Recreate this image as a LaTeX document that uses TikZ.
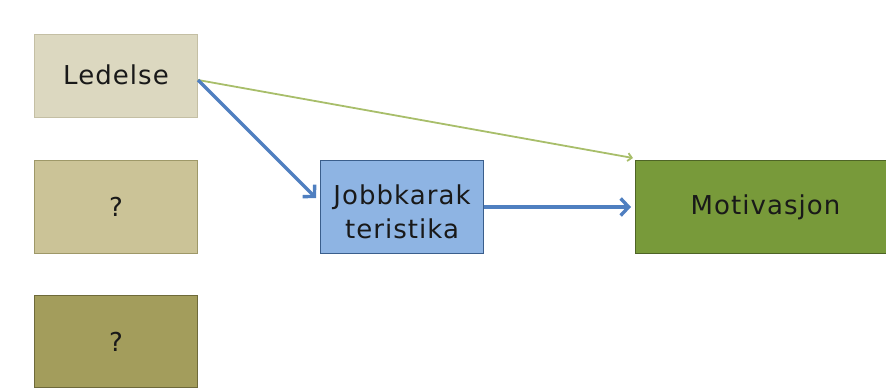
\documentclass[tikz,border=0pt]{standalone}
\usepackage{fontspec}
\setmainfont{DejaVu Sans}[LetterSpace=4]
\usetikzlibrary{arrows.meta}
\definecolor{ledfill}{HTML}{DCD8C0}
\definecolor{ledline}{HTML}{C4BFA4}
\definecolor{q1fill}{HTML}{CBC397}
\definecolor{q1line}{HTML}{9E9868}
\definecolor{q2fill}{HTML}{A39D5C}
\definecolor{q2line}{HTML}{6E6A3A}
\definecolor{jobfill}{HTML}{8EB4E3}
\definecolor{jobline}{HTML}{3A5E8C}
\definecolor{motfill}{HTML}{789A3A}
\definecolor{motline}{HTML}{4E6426}
\definecolor{bluearrow}{HTML}{4F7FC0}
\definecolor{greenline}{HTML}{A8BE6A}
\tikzset{
  boxfont/.style={font=\fontsize{26}{34}\selectfont, align=center, text=black!90},
  box/.style={draw, line width=1pt, inner sep=0pt, anchor=north west, boxfont},
  bluelink/.style={draw=bluearrow, line width=3.2pt,
    -{Straight Barb[length=8pt,width=17pt,line width=3.4pt]}},
  thinlink/.style={draw=greenline, line width=1.8pt,
    -{Straight Barb[length=4pt,width=8pt]}}
}
\begin{document}
\begin{tikzpicture}[x=1pt,y=-1pt]
  \useasboundingbox (0,0) rectangle (886,389);
  \node[box, fill=ledfill, draw=ledline, minimum width=163pt, minimum height=83pt] (led) at (34,34) {\raisebox{2pt}{Ledelse}};
  \node[box, fill=q1fill, draw=q1line, minimum width=163pt, minimum height=93pt] (q1) at (34,160) {?};
  \node[box, fill=q2fill, draw=q2line, minimum width=163pt, minimum height=92pt] (q2) at (34,295) {?};
  \node[box, fill=jobfill, draw=jobline, minimum width=163pt, minimum height=93pt] (job) at (320,160) {};
  \node[boxfont, inner sep=0pt] (jobtext) at ([yshift=-5pt]job.center) {Jobbkarak\\teristika};
  \node[box, fill=motfill, draw=motline, minimum width=260pt, minimum height=93pt] (mot) at (635,160) {Motivasjon};
  \coordinate (ledout) at ([yshift=-4pt]led.east);
  \draw[thinlink] (ledout) -- ([xshift=-2pt,yshift=2pt]mot.north west);
  \draw[bluelink] (ledout) -- ([xshift=-4pt,yshift=9pt]job.west);
  \draw[bluelink] (job.east) -- ([xshift=-4pt]mot.west);
\end{tikzpicture}
\end{document}
